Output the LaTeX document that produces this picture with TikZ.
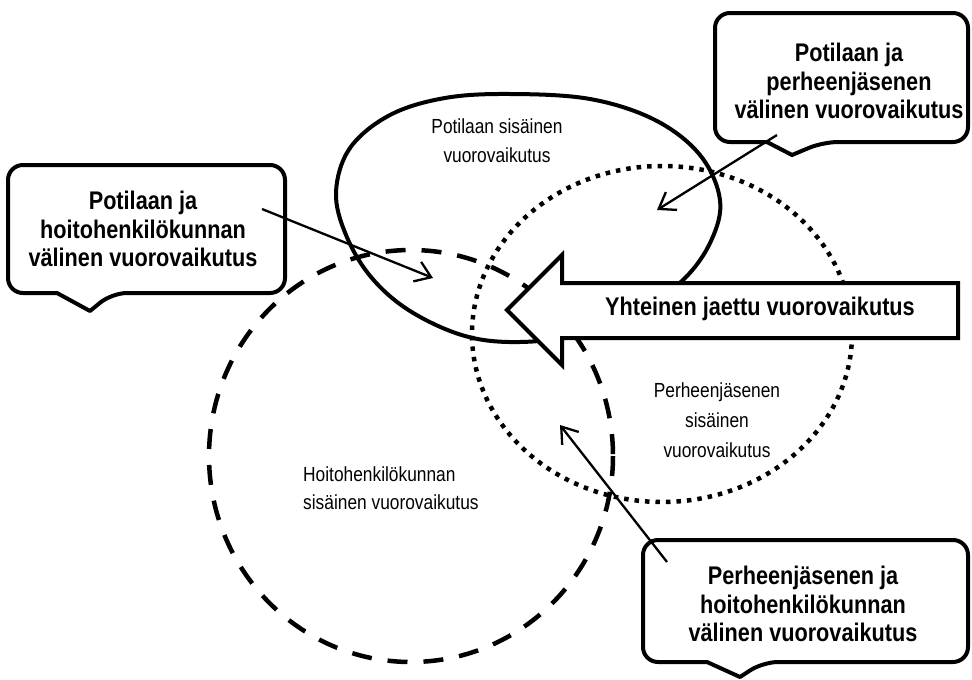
\documentclass[tikz,border=0pt]{standalone}
\usepackage{fontspec}
\setmainfont{Liberation Sans}[FakeStretch=0.85]
\usetikzlibrary{arrows.meta}
\begin{document}
\begin{tikzpicture}[x=1pt,y=-1pt,
  calloutbox/.style={draw=black, line width=4pt, fill=white, line join=round},
  boldtext/.style={font=\fontsize{25.5}{28.5}\selectfont\bfseries, align=center, inner sep=0pt},
  smalltext/.style={inner sep=0pt},
  thinarrow/.style={line width=2.3pt, -{Straight Barb[length=15pt,width=21pt,line width=2.3pt]}},
  solidring/.style={draw=black, line width=4pt},
  dashring/.style={draw=black, line width=4.5pt, dash pattern=on 20pt off 16pt},
  dotring/.style={draw=black, line width=4.5pt, dash pattern=on 4.5pt off 6pt},
  bigarrow/.style={draw=black, line width=4pt, fill=white, line join=miter}]
\useasboundingbox (0,0) rectangle (972,680);

% three interaction areas
\draw[dashring] (411,456) ellipse [x radius=202, y radius=206];
\draw[dotring] (662,334) ellipse [x radius=190, y radius=168];
\draw[solidring] plot[smooth cycle, tension=0.6] coordinates {
  (510,94) (590,99) (655,120) (700,155) (720,200) (711,241) (684,279)
  (640,310) (580,334) (520,342) (465,336) (410,311) (371,277) (346,235)
  (336,192) (350,148) (390,115) (445,98)};

% shared interaction arrow
\draw[bigarrow] (507,310) -- (562,255) -- (562,283) -- (958,283) -- (958,338)
  -- (562,338) -- (562,365) -- cycle;
\node[boldtext, anchor=base] (shared) at (760,315) {Yhteinen jaettu vuorovaikutus};

% inner texts
\node[smalltext, font=\fontsize{20.4}{29}\selectfont, align=center] (potin) at (497,141)
  {Potilaan sisäinen\\vuorovaikutus};
\node[smalltext, font=\fontsize{20.4}{30}\selectfont, align=center] (perin) at (717,420.5)
  {Perheenjäsenen\\sisäinen\\vuorovaikutus};
\node[smalltext, font=\fontsize{20.4}{28}\selectfont, align=left, anchor=west] (hoitoin) at (303,488.5)
  {Hoitohenkilökunnan\\sisäinen vuorovaikutus};

% callouts
\draw[calloutbox] (285,230) [rounded corners=15pt] -- (285,293) -- (112,293)
  [sharp corners] -- (90,311) -- (57,293) [rounded corners=15pt] -- (8,293)
  -- (8,165) -- (285,165) -- cycle;
\node[boldtext] (leftc) at (143,229.2) {Potilaan ja\\hoitohenkilökunnan\\välinen vuorovaikutus};

\draw[calloutbox] (968,80) [rounded corners=15pt] -- (968,142) -- (823,142)
  [sharp corners] -- (792,155) -- (767,142) [rounded corners=15pt] -- (715,142)
  -- (715,13) -- (968,13) -- cycle;
\node[boldtext] (topc) at (849,81) {Potilaan ja\\perheenjäsenen\\välinen vuorovaikutus};

\draw[calloutbox] (968,600) [rounded corners=15pt] -- (968,662) -- (763,662)
  [sharp corners] -- (740,677) -- (707,662) [rounded corners=15pt] -- (643,662)
  -- (643,540) -- (968,540) -- cycle;
\node[boldtext] (botc) at (803,604.2) {Perheenjäsenen ja\\hoitohenkilökunnan\\välinen vuorovaikutus};

% pointer arrows
\coordinate (lefts) at (262,209);
\coordinate (leftt) at (433,278);
\coordinate (tops) at (777,135);
\coordinate (topt) at (657,210);
\coordinate (bots) at (667,562);
\coordinate (bott) at (560,425);
\draw[thinarrow] (lefts) -- (leftt);
\draw[thinarrow] (tops) -- (topt);
\draw[thinarrow] (bots) -- (bott);
\end{tikzpicture}
\end{document}
